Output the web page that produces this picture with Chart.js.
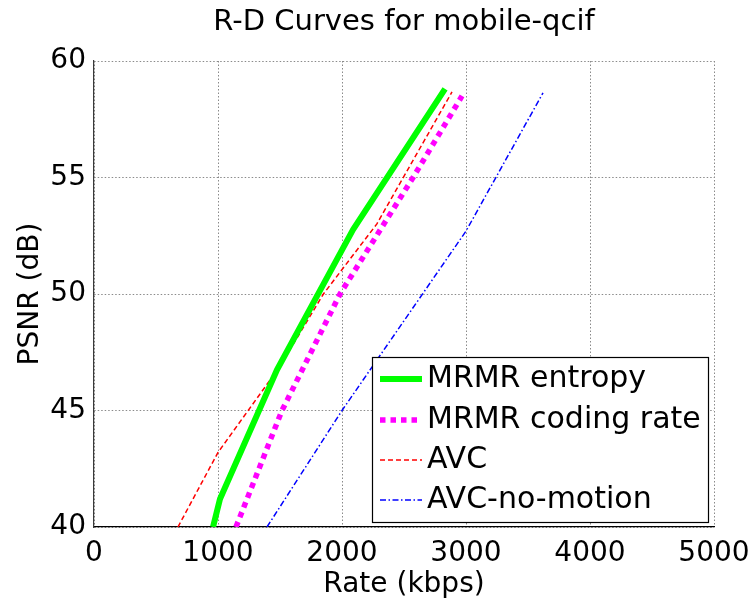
<!DOCTYPE html>
<html>
<head>
<meta charset="utf-8">
<script src="https://cdn.jsdelivr.net/npm/chart.js@4/dist/chart.umd.min.js"></script>
<style>
  html, body { margin: 0; padding: 0; background: #fff; }
  #wrap { width: 753px; height: 602px; }
</style>
</head>
<body>
<div id="wrap"><canvas id="rd" width="753" height="602"></canvas></div>
<script>
// Rate (kbps) and PSNR (dB) samples for each coder
const entropyRate  = [960, 1016, 1476, 2089, 2831];
const entropyPsnr  = [40.0, 41.2, 46.75, 52.76, 58.8];

const codingRate   = [1145, 1516, 1984, 2573, 2968];
const codingPsnr   = [40.0, 45.0, 50.0, 55.0, 58.5];

const avcRate      = [677, 1000, 1500, 1850, 2280, 2887];
const avcPsnr      = [40.0, 43.2, 46.9, 50.0, 53.0, 58.67];

const noMotionRate = [1395, 2000, 3000, 3621];
const noMotionPsnr = [40.0, 45.0, 52.7, 58.63];

const seriesNames  = ['MRMR entropy', 'MRMR coding rate', 'AVC', 'AVC-no-motion'];
const xTicks = [0, 1000, 2000, 3000, 4000, 5000];
const yTicks = [40, 45, 50, 55, 60];

const FONT = 'DejaVu Sans';

function pairs(xs, ys) { return xs.map((x, i) => ({ x: x, y: ys[i] })); }

const styles = [
  { color: '#00ff00', width: 6,   dash: [] },
  { color: '#ff00ff', width: 5.5, dash: [5.5, 5] },
  { color: '#ff0000', width: 1.5, dash: [5, 3] },
  { color: '#0000ff', width: 1.5, dash: [6, 2.5, 1.5, 2.5] }
];

const datasets = [
  pairs(entropyRate, entropyPsnr),
  pairs(codingRate, codingPsnr),
  pairs(avcRate, avcPsnr),
  pairs(noMotionRate, noMotionPsnr)
].map((d, i) => ({
  label: seriesNames[i],
  data: d,
  borderColor: styles[i].color,
  backgroundColor: styles[i].color,
  borderWidth: styles[i].width,
  borderDash: styles[i].dash,
  borderCapStyle: 'butt',
  borderJoinStyle: 'round',
  pointRadius: 0,
  tension: 0,
  fill: false
}));

// Boxed legend drawn inside the lower-right of the plot
const boxLegend = {
  id: 'boxLegend',
  afterDatasetsDraw(chart) {
    const ctx = chart.ctx;
    const left = 372, top = 357, right = 708, bottom = 522;
    const rowsY = [379, 420, 460, 500];
    ctx.save();
    ctx.fillStyle = '#ffffff';
    ctx.fillRect(left, top, right - left, bottom - top);
    ctx.strokeStyle = '#000000';
    ctx.lineWidth = 1.2;
    ctx.setLineDash([]);
    ctx.strokeRect(left + 0.5, top + 0.5, right - left, bottom - top);
    chart.data.datasets.forEach((ds, i) => {
      const y = rowsY[i];
      ctx.beginPath();
      ctx.strokeStyle = ds.borderColor;
      ctx.lineWidth = ds.borderWidth;
      ctx.lineCap = 'butt';
      ctx.setLineDash(ds.borderDash);
      ctx.moveTo(380, y);
      ctx.lineTo(422, y);
      ctx.stroke();
      ctx.setLineDash([]);
      ctx.fillStyle = '#000000';
      ctx.font = '30px "' + FONT + '"';
      ctx.textBaseline = 'middle';
      ctx.textAlign = 'left';
      ctx.fillText(ds.label, 427, y);
    });
    ctx.restore();
  }
};

new Chart(document.getElementById('rd'), {
  type: 'line',
  data: { datasets: datasets },
  plugins: [boxLegend],
  options: {
    responsive: false,
    animation: false,
    events: [],
    layout: { padding: { top: 0, right: 39, bottom: 0, left: 0 } },
    plugins: {
      legend: { display: false },
      tooltip: { enabled: false },
      title: {
        display: true,
        text: 'R-D Curves for mobile-qcif',
        fullSize: false,
        color: '#000',
        font: { family: FONT, size: 29, weight: 'normal', lineHeight: 1.2 },
        padding: { top: 5, bottom: 21.2 }
      }
    },
    scales: {
      x: {
        type: 'linear',
        min: 0, max: 5000,
        afterFit(s) { s.height = 75; s.paddingLeft = 0; s.paddingRight = 0; },
        afterBuildTicks(s) { s.ticks = xTicks.map(v => ({ value: v })); },
        ticks: {
          color: '#000',
          padding: 10,
          maxRotation: 0,
          font: { family: FONT, size: 28 },
          callback: v => String(v)
        },
        grid: { color: '#8a8a8a', lineWidth: 1, drawTicks: false },
        border: { display: true, color: '#000', width: 1.2, dash: [1.5, 2] },
        title: {
          display: true,
          text: 'Rate (kbps)',
          color: '#000',
          font: { family: FONT, size: 28, lineHeight: 1.2 },
          padding: { top: 0, bottom: 0 }
        }
      },
      y: {
        type: 'linear',
        min: 40, max: 60,
        afterFit(s) { s.width = 94; s.paddingTop = 0; s.paddingBottom = 0; },
        afterBuildTicks(s) { s.ticks = yTicks.map(v => ({ value: v })); },
        ticks: {
          color: '#000',
          padding: 8,
          font: { family: FONT, size: 28 },
          callback: v => String(v)
        },
        grid: { color: '#8a8a8a', lineWidth: 1, drawTicks: false },
        border: { display: true, color: '#3a3a3a', width: 1.2, dash: [1.5, 2] },
        title: {
          display: true,
          text: 'PSNR (dB)',
          color: '#000',
          font: { family: FONT, size: 28, lineHeight: 1.2 },
          padding: { top: 14, bottom: 0 }
        }
      }
    }
  }
});
</script>
</body>
</html>
